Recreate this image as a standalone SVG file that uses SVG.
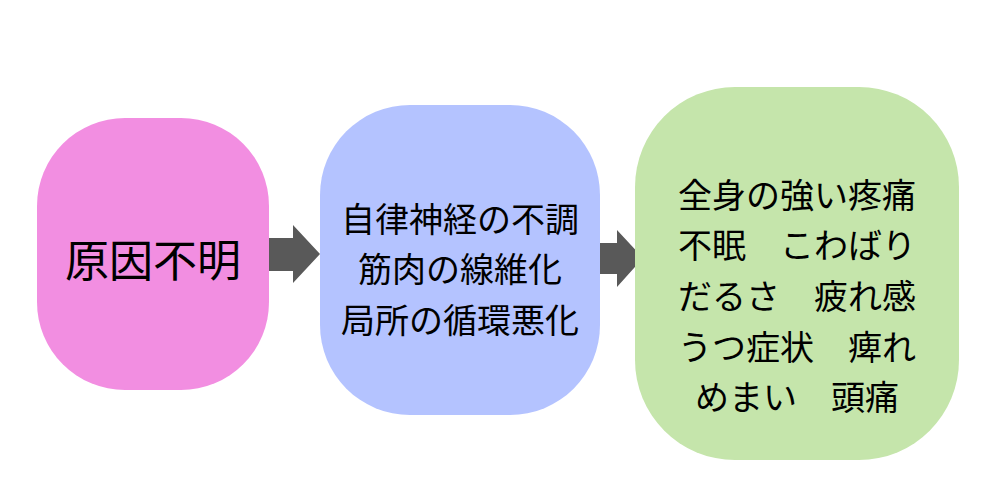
<svg xmlns="http://www.w3.org/2000/svg" width="1000" height="500" viewBox="0 0 1000 500">
<style>
text{font-family:"Noto Sans CJK JP","Noto Sans CJK SC",sans-serif;fill:#000;text-anchor:middle;dominant-baseline:central}
.t{font-size:34px}
.arrow{fill:#595959}
</style>
<rect width="1000" height="500" fill="#fff"/>
<g id="connectors">
<polygon class="arrow" points="266,238 293,238 293,225 320,254 293,283 293,271 266,271"/>
<polygon class="arrow" points="592,243 617,243 617,230 643,258 617,287 617,274 592,274"/>
</g>
<g id="node-cause">
<rect x="37" y="118" width="232" height="272" rx="88" ry="88" fill="#F28EE1"/>
<text x="153" y="258" font-size="44">原因不明</text>
</g>
<g id="node-mechanism">
<rect x="320" y="105" width="280" height="310" rx="90" ry="90" fill="#B4C3FF"/>
<text class="t" x="460" y="217">自律神経の不調</text>
<text class="t" x="460" y="267">筋肉の線維化</text>
<text class="t" x="460" y="318">局所の循環悪化</text>
</g>
<g id="node-symptoms">
<rect x="635" y="87" width="324" height="373" rx="100" ry="100" fill="#C5E5AB"/>
<text class="t" x="797" y="193">全身の強い疼痛</text>
<text class="t" x="797" y="243">不眠　こわばり</text>
<text class="t" x="797" y="294">だるさ　疲れ感</text>
<text class="t" x="797" y="345">うつ症状　痺れ</text>
<text class="t" x="797" y="395">めまい　頭痛</text>
</g>
</svg>
